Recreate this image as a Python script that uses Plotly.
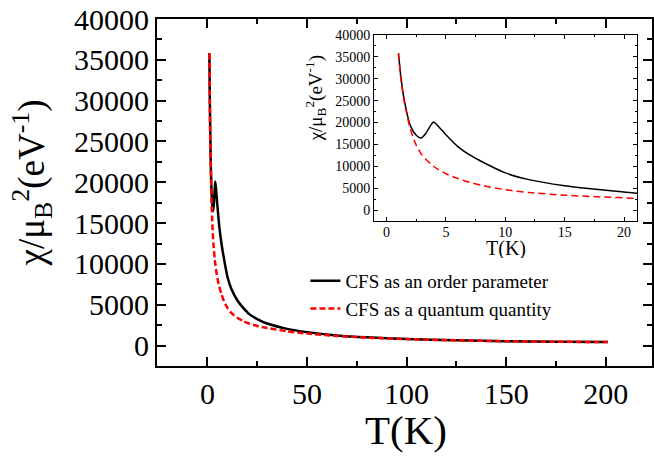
import plotly.graph_objects as go

# Susceptibility chi/mu_B^2 (eV^-1) versus temperature T (K)
t_order = [1, 1.2, 1.5, 2, 2.5, 2.9, 3.3, 3.7, 3.95, 4.3, 5, 6, 7, 8, 10, 12, 15,
           17, 20, 21, 25, 30, 40, 50, 65, 80, 100, 125, 150, 175, 201]
chi_order = [35800, 30500, 25000, 19300, 17100, 16450, 17500, 19300, 20100, 19300,
             17200, 14500, 12600, 11100, 8500, 6950, 5550, 4900, 4100, 3850, 3250,
             2700, 2050, 1650, 1250, 1020, 820, 650, 540, 480, 440]

t_quant = [1, 1.2, 1.5, 2, 2.5, 3, 4, 5, 6, 7, 8, 10, 12, 15, 18, 21, 25, 30, 40,
           50, 65, 80, 100, 125, 150, 175, 201]
chi_quant = [35800, 30000, 24500, 18500, 14800, 12500, 9900, 8300, 7200, 6350, 5650,
             4650, 4000, 3400, 3000, 2700, 2400, 2150, 1750, 1480, 1180, 980, 800,
             640, 530, 470, 440]

name_order = "CFS as an order parameter"
name_quant = "CFS as a quantum quantity"

main_xticks = [0, 50, 100, 150, 200]
main_yticks = [0, 5000, 10000, 15000, 20000, 25000, 30000, 35000, 40000]
inset_xticks = [0, 5, 10, 15, 20]

FONT = "Liberation Serif, Times New Roman, serif"
W, H = 654, 456
L, R, T, B = 157, 0, 19, 90
PW, PH = W - L - R, H - T - B


def px_x(x):
    return (x - L) / PW


def px_y(y):
    return (H - B - y) / PH


fig = go.Figure()

# main panel
fig.add_trace(go.Scatter(x=t_order, y=chi_order, name=name_order, mode="lines",
                         line=dict(color="black", width=2.5, shape="spline", smoothing=0.6),
                         xaxis="x", yaxis="y"))
fig.add_trace(go.Scatter(x=t_quant, y=chi_quant, name=name_quant, mode="lines",
                         line=dict(color="red", width=2.5, dash="6px,3px", shape="spline",
                                   smoothing=0.6),
                         xaxis="x", yaxis="y"))

# inset panel (low-temperature region)
fig.add_trace(go.Scatter(x=t_order, y=chi_order, mode="lines", showlegend=False,
                         line=dict(color="black", width=1.5, shape="spline", smoothing=0.6),
                         xaxis="x2", yaxis="y2"))
fig.add_trace(go.Scatter(x=t_quant, y=chi_quant, mode="lines", showlegend=False,
                         line=dict(color="red", width=1.5, dash="7px,4px", shape="spline",
                                   smoothing=0.6),
                         xaxis="x2", yaxis="y2"))

main_axis = dict(showline=True, linecolor="black", linewidth=2, mirror="ticks",
                 ticks="inside", ticklen=9, tickwidth=2, tickcolor="black",
                 showgrid=False, zeroline=False, tickformat="d",
                 tickfont=dict(family=FONT, size=30, color="black"))
inset_axis = dict(showline=True, linecolor="black", linewidth=1, mirror="ticks",
                  ticks="inside", ticklen=4, tickwidth=1, tickcolor="black",
                  showgrid=False, zeroline=False, tickformat="d",
                  tickfont=dict(family=FONT, size=14, color="black"))

fig.update_layout(
    width=W, height=H,
    margin=dict(l=L, r=R, t=T, b=B),
    paper_bgcolor="white", plot_bgcolor="white",
    font=dict(family=FONT, color="black"),
    xaxis=dict(main_axis, range=[-25.3, 223.2], tickvals=main_xticks,
               minor=dict(dtick=25, ticklen=5, tickwidth=2, ticks="inside"),
               domain=[0, 1]),
    yaxis=dict(main_axis, range=[-2500, 40000], tickvals=main_yticks,
               minor=dict(dtick=2500, ticklen=5, tickwidth=2, ticks="inside"),
               domain=[0, 1]),
    xaxis2=dict(inset_axis, range=[-1.05, 21.1], tickvals=inset_xticks,
                minor=dict(dtick=2.5, ticklen=2, tickwidth=1, ticks="inside"),
                ticklabelstandoff=-2,
                domain=[px_x(375), px_x(639)], anchor="y2"),
    yaxis2=dict(inset_axis, range=[-2500, 40000], tickvals=main_yticks,
                minor=dict(dtick=2500, ticklen=2, tickwidth=1, ticks="inside"),
                domain=[px_y(221), px_y(35)], anchor="x2"),
    legend=dict(x=px_x(306), y=px_y(262), xanchor="left", yanchor="top",
                bgcolor="rgba(0,0,0,0)", font=dict(family=FONT, size=19, color="black"),
                tracegroupgap=0),
    showlegend=True,
)

ytitle = "χ/μ<sub>B</sub><sup>2</sup>(eV<sup>-1</sup>)"
fig.add_annotation(text="T(K)", xref="paper", yref="paper", x=px_x(407), y=px_y(430),
                   xanchor="center", yanchor="middle", showarrow=False,
                   font=dict(family=FONT, size=41, color="black"))
fig.add_annotation(text=ytitle, xref="paper", yref="paper", x=px_x(31), y=px_y(183),
                   xanchor="center", yanchor="middle", showarrow=False, textangle=-90,
                   font=dict(family=FONT, size=37, color="black"))
fig.add_annotation(text="T(K)", xref="paper", yref="paper", x=px_x(507), y=px_y(248),
                   xanchor="center", yanchor="middle", showarrow=False, height=20,
                   font=dict(family=FONT, size=20, color="black"))
fig.add_annotation(text=ytitle, xref="paper", yref="paper", x=px_x(316), y=px_y(98),
                   xanchor="center", yanchor="middle", showarrow=False, textangle=-90,
                   font=dict(family=FONT, size=19, color="black"))

fig.write_html("out.html")
